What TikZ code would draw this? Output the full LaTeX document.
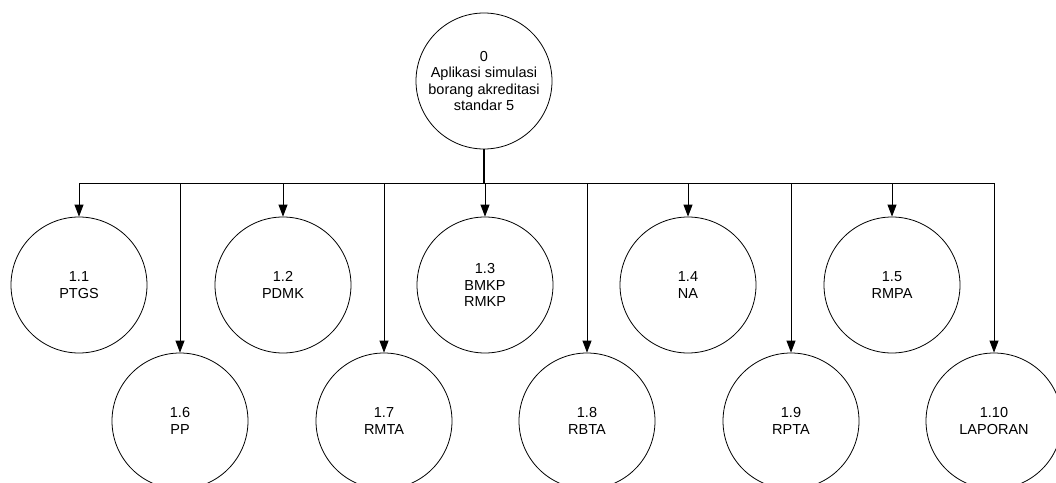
\documentclass[tikz,border=0pt]{standalone}
\usepackage{fontspec}
\setmainfont{Liberation Sans}
\usetikzlibrary{arrows.meta}
\begin{document}
\begin{tikzpicture}[x=1pt,y=-1pt,
  proc/.style={draw,circle,minimum size=136pt,inner sep=0pt,line width=0.8pt,
    align=center,font=\fontsize{14.5}{16.5}\selectfont},
  link/.style={line width=0.8pt,-{Triangle[length=12pt,width=9pt]}},
  bar/.style={line width=0.8pt}]
\useasboundingbox (0,0) rectangle (1056,482);
\node[proc] (p0) at (484,81) {0\\Aplikasi simulasi\\borang akreditasi\\standar 5};
\node[proc] (p11) at (79,285) {1.1\\PTGS};
\node[proc] (p12) at (283,285) {1.2\\PDMK};
\node[proc] (p13) at (485,285) {1.3\\BMKP\\RMKP};
\node[proc] (p14) at (688,285) {1.4\\NA};
\node[proc] (p15) at (892,285) {1.5\\RMPA};
\node[proc] (p16) at (180,421) {1.6\\PP};
\node[proc] (p17) at (384,421) {1.7\\RMTA};
\node[proc] (p18) at (587,421) {1.8\\RBTA};
\node[proc] (p19) at (791,421) {1.9\\RPTA};
\node[proc] (p110) at (994,421) {1.10\\LAPORAN};
\coordinate (hub) at (p0.south |- 0,183);
\coordinate (left) at (p11.north |- 0,183);
\coordinate (right) at (p110.north |- 0,183);
\draw[line width=2pt] (p0.south) -- (hub);
\draw[bar] (left) -- (right);
\foreach \n in {p11,p12,p13,p14,p15,p16,p17,p18,p19,p110}
  \draw[link] (\n.north |- hub) -- (\n.north);
\end{tikzpicture}
\end{document}
